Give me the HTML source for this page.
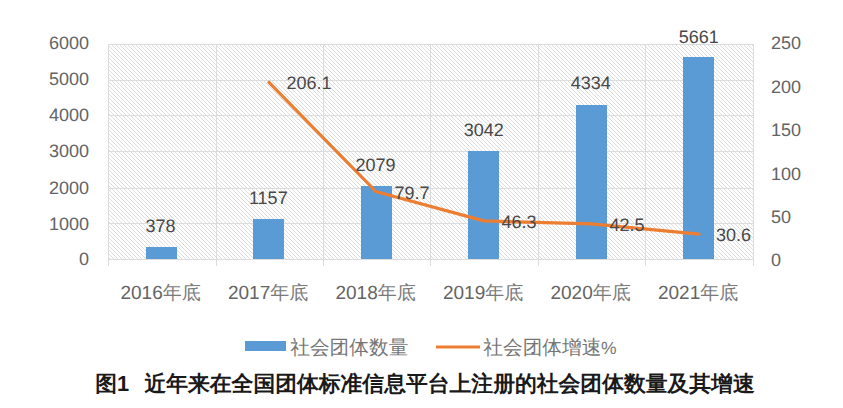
<!DOCTYPE html>
<html><head><meta charset="utf-8">
<style>
html,body{margin:0;padding:0;background:#fff;width:843px;height:408px;overflow:hidden;}
svg{display:block;font-family:"Liberation Sans",sans-serif;text-rendering:geometricPrecision;}
.ax{font-size:18px;fill:#646464;}
.dl{font-size:18px;fill:#484848;}
.lg{font-size:19.7px;fill:#767676;}
.xl{font-size:19px;fill:#646464;}
.cj{fill:#7a7a7a;}
.tt{font-size:21.8px;font-weight:bold;fill:#1a1a1a;}
</style></head>
<body>
<svg width="843" height="408" viewBox="0 0 843 408">
<defs>
<pattern id="hatch" patternUnits="userSpaceOnUse" x="0" y="0" width="4" height="4">
<rect x="3" y="0" width="1" height="1" fill="#dddddd"/><rect x="0" y="1" width="1" height="1" fill="#dddddd"/><rect x="1" y="2" width="1" height="1" fill="#dddddd"/><rect x="2" y="3" width="1" height="1" fill="#dddddd"/>
</pattern>
</defs>
<rect x="108" y="44" width="646" height="216" fill="url(#hatch)"/>
<g stroke="#dcdcdc" stroke-width="1" fill="none" shape-rendering="crispEdges">
<path d="M108,44.5H754M108,80.5H754M108,115.5H754M108,151.5H754M108,188.5H754M108,223.5H754M108,259.5H754"/>
<path d="M108.5,44V266M216.5,44V266M323.5,44V266M430.5,44V266M538.5,44V266M645.5,44V266M753.5,44V266"/>
</g>
<!-- bars -->
<g fill="#5b9bd5" shape-rendering="crispEdges">
<rect x="146" y="247" width="31" height="12"/>
<rect x="253" y="219" width="31" height="40"/>
<rect x="361" y="186" width="31" height="73"/>
<rect x="468" y="151" width="31" height="108"/>
<rect x="576" y="105" width="31" height="154"/>
<rect x="683" y="57" width="31" height="202"/>
</g>
<polyline points="269,82.3 375.8,191.5 483.8,220.9 591.5,223.8 699,234.2" fill="none" stroke="#ed7d31" stroke-width="3.2" stroke-linejoin="round" stroke-linecap="round"/>
<!-- left axis labels -->
<g class="ax" text-anchor="end">
<text x="89" y="49.3">6000</text>
<text x="89" y="85.3">5000</text>
<text x="89" y="121">4000</text>
<text x="89" y="157.3">3000</text>
<text x="89" y="193.5">2000</text>
<text x="89" y="230">1000</text>
<text x="89" y="265.2">0</text>
</g>
<g class="ax" text-anchor="start">
<text x="771" y="49.3">250</text>
<text x="771" y="93">200</text>
<text x="771" y="136.4">150</text>
<text x="771" y="179.6">100</text>
<text x="771" y="223.3">50</text>
<text x="771" y="265.5">0</text>
</g>
<g class="xl" text-anchor="middle">
<text x="160.6" y="299">2016<tspan class="cj">年底</tspan></text>
<text x="268.1" y="299">2017<tspan class="cj">年底</tspan></text>
<text x="375.6" y="299">2018<tspan class="cj">年底</tspan></text>
<text x="483.1" y="299">2019<tspan class="cj">年底</tspan></text>
<text x="590.6" y="299">2020<tspan class="cj">年底</tspan></text>
<text x="698.1" y="299">2021<tspan class="cj">年底</tspan></text>
</g>
<g class="dl" text-anchor="middle">
<text x="160.5" y="231.5">378</text>
<text x="268.3" y="203.5">1157</text>
<text x="375.5" y="170.5">2079</text>
<text x="483.7" y="136">3042</text>
<text x="590.7" y="89">4334</text>
<text x="698.7" y="43">5661</text>
</g>
<g class="dl" text-anchor="start">
<text x="286.5" y="88.5">206.1</text>
<text x="394.5" y="198.7">79.7</text>
<text x="501.5" y="227.5">46.3</text>
<text x="609.5" y="230.5">42.5</text>
<text x="716" y="240.5">30.6</text>
</g>
<rect x="245" y="341" width="41" height="10" fill="#5b9bd5"/>
<text class="lg" x="290.2" y="354">社会团体数量</text>
<path d="M436,347H480" stroke="#ed7d31" stroke-width="3"/>
<text class="lg" x="483.3" y="354">社会团体增速<tspan font-size="17.5" x="601">%</tspan></text>
<text class="tt" x="95.2" y="391">图1</text>
<text class="tt" x="144.4" y="391">近年来在全国团体标准信息平台上注册的社会团体数量及其增速</text>
</svg>
</body></html>
